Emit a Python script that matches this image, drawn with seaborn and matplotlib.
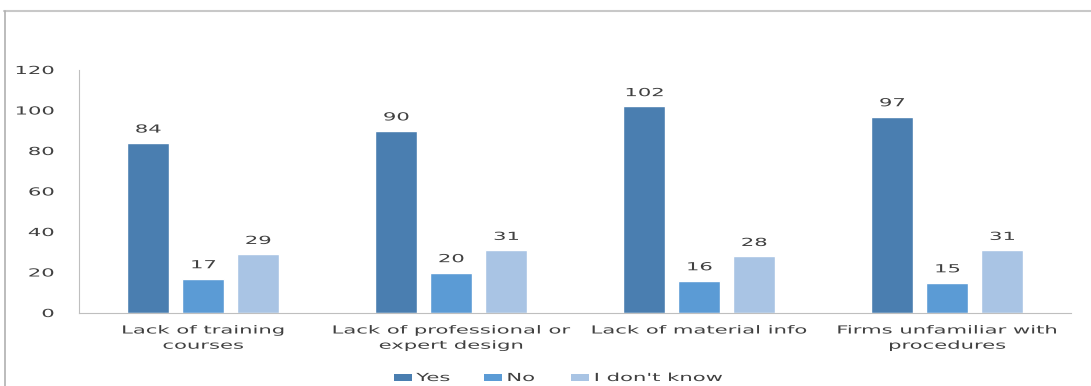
import matplotlib
matplotlib.use("Agg")
import matplotlib.pyplot as plt
from matplotlib.lines import Line2D
from matplotlib.patches import Patch
from matplotlib.patheffects import AbstractPathEffect
from matplotlib.transforms import Affine2D
import seaborn as sns
import pandas as pd

categories = ["Lack of training\ncourses", "Lack of professional or\nexpert design",
              "Lack of material info", "Firms unfamiliar with\nprocedures"]
series = ["Yes", "No", "I don't know"]
yes_vals = [84, 90, 102, 97]
no_vals = [17, 20, 16, 15]
idk_vals = [29, 31, 28, 31]
yticks = [0, 20, 40, 60, 80, 100, 120]
colors = ["#4a7eb0", "#5b9bd5", "#a9c4e4"]

rows = []
for s, vals in zip(series, [yes_vals, no_vals, idk_vals]):
    for c, v in zip(categories, vals):
        rows.append({"category": c, "series": s, "value": v})
df = pd.DataFrame(rows)


class HStretch(AbstractPathEffect):
    """Stretch text horizontally (the reference image is a widened chart)."""
    def __init__(self, sx, anchor="center"):
        super().__init__()
        self.sx = sx
        self.anchor = anchor

    def draw_path(self, renderer, gc, tpath, affine, rgbFace=None):
        verts = affine.transform(tpath.vertices)
        xmin, xmax = verts[:, 0].min(), verts[:, 0].max()
        x0 = {"center": (xmin + xmax) / 2, "left": xmin, "right": xmax}[self.anchor]
        t = affine + Affine2D().translate(-x0, 0).scale(self.sx, 1).translate(x0, 0)
        renderer.draw_path(gc, tpath, t, rgbFace)


SX = 1.9
FS = 8
TXT = "#404040"

sns.set_theme(style="white")
plt.rcParams['font.family'] = ['DejaVu Sans']

fig = plt.figure(figsize=(10.91, 3.86), dpi=100)
ax = fig.add_axes([79/1091, 1-313/386, (1071-79)/1091, (313-70)/386])

sns.barplot(data=df, x="category", y="value", hue="series", order=categories,
            hue_order=series, palette=colors, width=0.665, gap=0.22,
            ax=ax, legend=False, saturation=1)

for cont in ax.containers:
    labels = ax.bar_label(cont, padding=6, fontsize=FS, color=TXT)
    for t in labels:
        t.set_path_effects([HStretch(SX, "center")])

ax.set_ylim(0, 120)
ax.set_yticks(yticks)
ax.set_xlim(-0.5, 3.5)
ax.set_xlabel("")
ax.set_ylabel("")
ax.tick_params(axis="y", length=0, pad=18, labelsize=FS, labelcolor=TXT)
ax.tick_params(axis="x", length=0, pad=9, labelsize=FS, labelcolor=TXT)
for t in ax.get_yticklabels():
    t.set_path_effects([HStretch(SX, "right")])
for t in ax.get_xticklabels():
    t.set_path_effects([HStretch(SX, "center")])
    t.set_linespacing(1.65)
for sp in ["top", "right"]:
    ax.spines[sp].set_visible(False)
ax.spines["left"].set_color("#bfbfbf")
ax.spines["bottom"].set_color("#bfbfbf")
ax.spines["left"].set_linewidth(0.8)
ax.spines["bottom"].set_linewidth(0.8)

handles = [Patch(facecolor=c, edgecolor="none") for c in colors]
leg = fig.legend(handles, series, loc="center", bbox_to_anchor=(528/1091, 1-378/386),
                 ncol=3, frameon=False, fontsize=FS, handlelength=1.6, handleheight=0.6,
                 columnspacing=4.5, handletextpad=0.4, labelcolor=TXT)
for t in leg.get_texts():
    t.set_path_effects([HStretch(SX, "left")])

# outer chart frame (partially visible)
fig.add_artist(Line2D([4/1091, 1], [1-11/386, 1-11/386], color="#c8c8c8", lw=1.5,
                      transform=fig.transFigure))
fig.add_artist(Line2D([4.5/1091, 4.5/1091], [1-11/386, 0], color="#b0b0b0", lw=1.2,
                      transform=fig.transFigure))

fig.savefig("out.png", dpi=100)
